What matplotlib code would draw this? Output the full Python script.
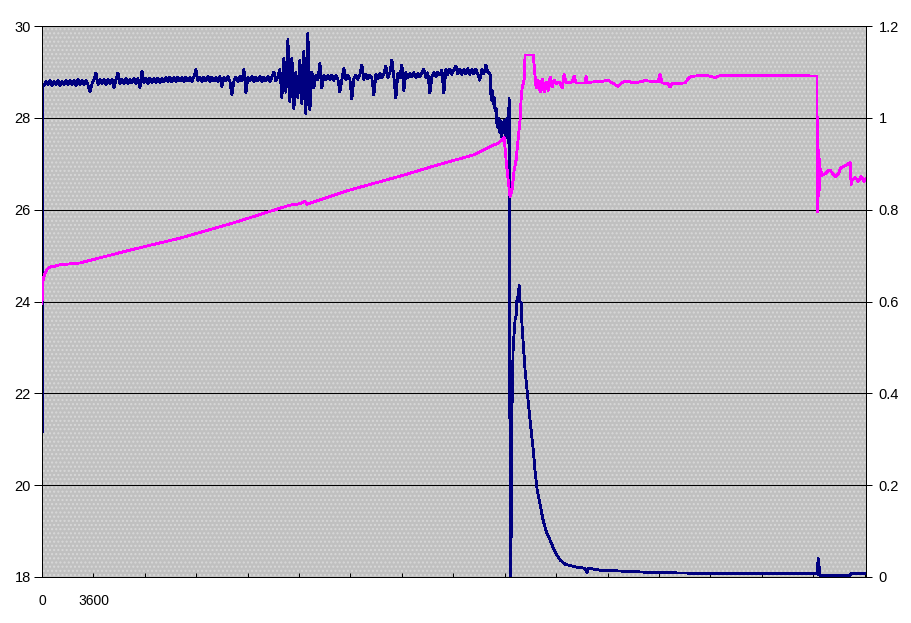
import numpy as np
import matplotlib
matplotlib.use("Agg")
import matplotlib.pyplot as plt
from matplotlib.patches import Rectangle

# time axis in seconds, one tick per hour, only the first two labelled
x_tick_labels = ['0', '3600']
n_hours = 16
x_max = 57700

left_ticks = [18, 20, 22, 24, 26, 28, 30]
right_ticks = [0, 0.2, 0.4, 0.6, 0.8, 1.0, 1.2]
right_tick_labels = ['0', '0.2', '0.4', '0.6', '0.8', '1', '1.2']

# blue series (left axis) - start-up
blue_start_t = [0, 20, 60]
blue_start_v = [18.0, 26.85, 28.70]

# blue series - noisy plateau, one reading every 140 s from t=140
blue_plateau_v = [
    28.70, 28.80, 28.72, 28.81, 28.71, 28.80, 28.73, 28.82, 28.71, 28.80,
    28.72, 28.82, 28.72, 28.81, 28.73, 28.82, 28.71, 28.83, 28.72, 28.82,
    28.73, 28.82, 28.72, 28.56, 28.74, 28.83, 28.98, 28.73, 28.83, 28.74,
    28.84, 28.73, 28.83, 28.74, 28.84, 28.65, 28.83, 28.98, 28.74, 28.84,
    28.75, 28.85, 28.74, 28.84, 28.76, 28.86, 28.75, 28.85, 28.65, 29.02,
    28.76, 28.86, 28.75, 28.87, 28.76, 28.86, 28.77, 28.87, 28.76, 28.86,
    28.78, 28.88, 28.79, 28.89, 28.78, 28.88, 28.79, 28.89, 28.80, 28.88,
    28.79, 28.89, 28.80, 28.88, 28.79, 28.90, 29.05, 28.80, 28.89, 28.79,
    28.89, 28.80, 28.90, 28.79, 28.89, 28.80, 28.88, 28.79, 28.90, 28.68,
    28.89, 28.80, 28.90, 28.79, 28.50, 28.80, 28.89, 28.79, 28.90, 28.80,
    29.06, 28.55, 28.89, 28.80, 28.90, 28.79, 28.89, 28.80, 28.90, 28.79,
    28.89, 28.80, 28.90, 28.79, 28.89, 29.00, 28.80, 28.90,
    29.05, 28.45, 29.30, 28.56, 29.70, 28.35, 29.30, 28.20, 28.98, 28.45,
    29.26, 28.30, 29.45, 28.10, 29.83, 28.17, 29.00, 28.65,
    28.92, 28.83, 29.19, 28.65, 28.93, 28.83, 28.92, 28.84, 28.93, 28.82, 28.92, 28.84,
    28.56, 28.84, 29.08, 28.83, 28.93, 28.84, 28.41, 28.85, 28.93, 28.84, 28.94, 29.15,
    28.84, 28.94, 28.85, 28.93, 28.86, 28.50, 28.95, 28.86, 28.96, 28.87, 28.95, 29.13,
    28.88, 28.98, 29.26, 28.88, 28.43, 28.97, 28.88, 29.15, 28.60, 28.98, 28.88, 28.97,
    28.89, 28.98, 28.88, 28.97, 28.89, 28.98, 29.06, 28.88, 28.98, 28.54, 28.89, 28.99,
    28.90, 29.00, 28.93, 29.04, 28.54, 29.05, 28.95, 29.06, 28.95, 29.05, 29.13, 28.96,
    29.06, 28.95, 29.05, 28.96, 29.07, 28.95, 29.05, 28.96, 29.06, 28.95, 28.82, 29.05,
    28.96, 29.15, 29.00,
]
blue_plateau_step = 140

# blue series - collapse, peak and decay
blue_tail_t = [31378, 31448, 31518, 31588, 31658, 31728, 31798, 31868, 31938, 32008,
               32078, 32148, 32218, 32288, 32358, 32428, 32498, 32568, 32638, 32708,
               32743, 32778, 32848, 32883, 32918, 32988, 33058, 33128, 33198, 33268,
               33338, 33408, 33478, 33548, 33618, 33758, 33828, 33968, 34180, 34390,
               34530, 34670, 34880, 35090, 35300, 35580, 35930, 36280, 36630, 37330,
               38030, 38170, 38240, 39080, 40480, 42580, 46090, 54280, 54350, 54390,
               54420, 54490, 56590, 56660, 57710]
blue_tail_v = [28.95, 28.40, 28.60, 28.30, 28.45, 28.15, 28.20, 27.80, 28.00, 27.70,
               27.95, 27.60, 27.85, 27.75, 27.95, 27.60, 27.90, 28.00, 27.45, 28.42,
               27.00, 18.00, 18.80, 22.30, 21.80, 22.94, 23.30, 23.60, 23.70, 24.10,
               24.00, 24.35, 24.00, 23.98, 23.45, 22.80, 22.50, 22.07, 21.40, 20.80,
               20.30, 19.90, 19.57, 19.24, 19.00, 18.80, 18.54, 18.37, 18.28, 18.22,
               18.19, 18.10, 18.19, 18.15, 18.13, 18.10, 18.08, 18.08, 18.41, 18.05,
               18.22, 18.03, 18.03, 18.08, 18.07]

# magenta series (right axis)
magenta_t = [0, 35, 70, 140, 210, 350, 560, 910, 1261, 2662,
             6164, 9666, 13168, 17370, 18070, 18420, 18560, 21572, 25074, 27876,
             30187, 31378, 31938, 32218, 32358, 32498, 32638, 32778, 32918, 33058,
             33198, 33338, 33478, 33548, 33618, 33758, 33828, 34390, 34460, 34530,
             34600, 34740, 34880, 35020, 35160, 35300, 35440, 35580, 35720, 35860,
             36000, 36140, 36280, 36420, 36560, 36700, 37120, 37260, 37400, 38030,
             38100, 38170, 39290, 39640, 39920, 40340, 40620, 40900, 41530, 42230,
             43140, 43280, 43420, 43840, 43980, 44120, 45030, 45170, 45380, 45730,
             46430, 47130, 47480, 50280, 50980, 54270, 54290, 54340, 54380, 54410,
             54450, 54480, 54620, 54910, 55050, 55190, 55330, 55540, 55750, 55960,
             56240, 56590, 56660, 56730, 56940, 57150, 57360, 57570, 57710]
magenta_v = [0.595, 0.630, 0.645, 0.655, 0.662, 0.670, 0.675, 0.677, 0.680, 0.684,
             0.712, 0.738, 0.769, 0.810, 0.813, 0.818, 0.812, 0.843, 0.873, 0.899,
             0.919, 0.937, 0.945, 0.952, 0.958, 0.908, 0.865, 0.828, 0.843, 0.886,
             0.908, 0.952, 0.995, 1.039, 1.065, 1.082, 1.137, 1.137, 1.115, 1.089,
             1.065, 1.082, 1.056, 1.085, 1.056, 1.078, 1.060, 1.089, 1.067, 1.082,
             1.074, 1.078, 1.076, 1.065, 1.095, 1.076, 1.078, 1.091, 1.076, 1.076,
             1.091, 1.077, 1.080, 1.082, 1.076, 1.069, 1.077, 1.080, 1.076, 1.081,
             1.078, 1.095, 1.076, 1.074, 1.067, 1.074, 1.076, 1.082, 1.089, 1.091,
             1.093, 1.088, 1.092, 1.092, 1.093, 1.091, 0.795, 0.850, 0.930, 0.830,
             0.910, 0.890, 0.875, 0.880, 0.885, 0.886, 0.880, 0.872, 0.878, 0.892,
             0.896, 0.902, 0.855, 0.865, 0.870, 0.862, 0.872, 0.862, 0.867]

blue_plateau_t = blue_plateau_step * (np.arange(len(blue_plateau_v)) + 1)
blue_t = np.concatenate([blue_start_t, blue_plateau_t, blue_tail_t])
blue_v = np.concatenate([blue_start_v, blue_plateau_v, blue_tail_v])

plt.rcParams['font.family'] = ['Liberation Sans', 'DejaVu Sans']
plt.rcParams['hatch.linewidth'] = 1.0

W, H = 911, 623
px = 0.72  # one pixel in points at 100 dpi
fig = plt.figure(figsize=(W / 100, H / 100), dpi=100)
ax = fig.add_axes([42 / W, (H - 577) / H, 824 / W, 551 / H])
ax.set_facecolor('#c0c0c0')
ax.add_patch(Rectangle((0, 0), 1, 1, transform=ax.transAxes, facecolor='none',
                       edgecolor='#d8d8d8', hatch='....', lw=0, zorder=0))

ax.set_xlim(0, x_max)
ax.set_ylim(18, 30)
ax.set_yticks(left_ticks)
ax.set_yticklabels([str(v) for v in left_ticks])
ax.grid(axis='y', color='black', lw=px, antialiased=False)
ax.set_axisbelow(True)

xt = np.arange(n_hours + 1) * 3600
ax.set_xticks(xt)
ax.set_xticklabels(x_tick_labels + [''] * (len(xt) - len(x_tick_labels)))
ax.tick_params(axis='x', direction='in', length=3, width=px, pad=12, labelsize=10)
ax.tick_params(axis='y', direction='out', length=6, width=px, pad=2, labelsize=10.5)

ax.plot(blue_t, blue_v, color='#000080', lw=1.3, antialiased=False, zorder=3)

ax2 = ax.twinx()
ax2.set_ylim(0, 1.2)
ax2.set_yticks(right_ticks)
ax2.set_yticklabels(right_tick_labels)
ax2.tick_params(axis='y', direction='out', length=4, width=px, pad=5, labelsize=10.5)
ax2.plot(magenta_t, magenta_v, color='#ff00ff', lw=1.3, antialiased=False, zorder=3)

for a in (ax, ax2):
    a.spines['top'].set_visible(False)
    for s in ('left', 'right', 'bottom'):
        a.spines[s].set_color('black')
        a.spines[s].set_linewidth(px)

fig.savefig('out.png', dpi=100)
